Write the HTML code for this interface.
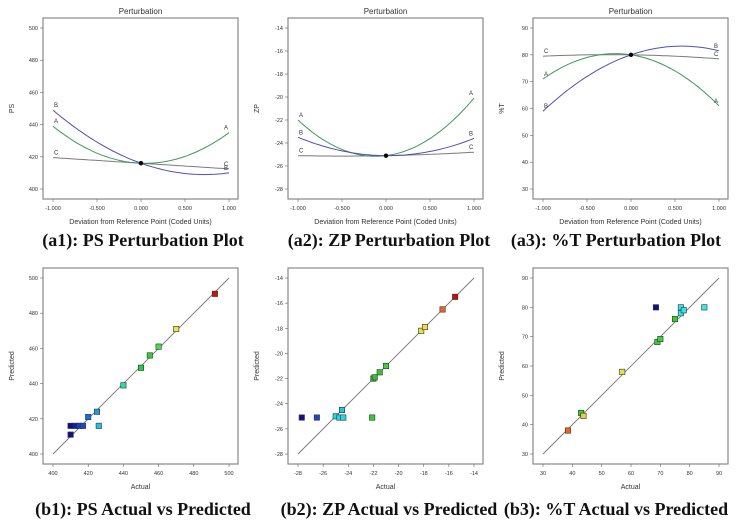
<!DOCTYPE html>
<html><head><meta charset="utf-8"><style>
body{margin:0;background:#fff;width:739px;height:529px;overflow:hidden}
svg{display:block}
.cap{font-family:"Liberation Serif",serif;font-weight:bold;font-size:18px;fill:#111}
.t{font-family:"Liberation Sans",sans-serif;fill:#333}
</style></head><body>
<svg id="s" width="739" height="529"></svg>
<script>
// Perturbation data: values at coded -1, 0, +1
const xTicksPert = [-1, -0.5, 0, 0.5, 1];
const xTickLabelsPert = ["-1.000","-0.500","0.000","0.500","1.000"];
const psA = [439, 416, 435], psB = [449, 416, 410], psC = [419.5, 416, 412.5];
const zpA = [-22, -25.1, -20.1], zpB = [-23.5, -25.1, -23.6], zpC = [-25.1, -25.1, -24.8];
const tA = [71, 80, 61], tB = [59, 80, 81.5], tC = [79.5, 80, 78.5];
const psTicks = [400, 420, 440, 460, 480, 500];
const zpTicks = [-28, -26, -24, -22, -20, -18, -16, -14];
const tTicks = [30, 40, 50, 60, 70, 80, 90];
// Actual vs predicted
const psActual = [410, 410, 413, 415, 417, 420, 425, 426, 440, 450, 455, 460, 470, 492];
const psPred   = [416, 411, 416, 416, 416, 421, 424, 416, 439, 449, 456, 461, 471, 491];
const psColor  = ["#10108a","#10108a","#1020a0","#1840c0","#1848d0","#1070e0","#2098e8","#20c0e8","#20e0a0","#20d040","#30d030","#40e040","#e8e840","#d01010"];
const zpActual = [-27.7, -26.5, -25, -24.7, -24.4, -24.5, -22.1, -22, -21.9, -21.5, -21, -18.2, -17.9, -16.5, -15.5];
const zpPred   = [-25.1, -25.1, -25, -25.1, -25.1, -24.5, -25.1, -22, -21.9, -21.5, -21, -18.2, -17.9, -16.5, -15.5];
const zpColor  = ["#10108a","#1848c0","#20d8e8","#20d8e8","#20d8e8","#20c8e0","#30d030","#30c030","#30c030","#30c830","#40d040","#e8e040","#e8e040","#f06020","#c01010"];
const tActual = [68.5, 77, 77, 78, 85, 75, 69, 70, 57, 43, 43.8, 38.5];
const tPred   = [80, 80, 78, 79, 80, 76, 68.2, 69.2, 58, 44, 43, 38];
const tColor  = ["#10108a","#30e8f0","#30e8f0","#30e8f0","#30e8f0","#30d030","#30d030","#40d040","#e8e040","#30d030","#e8d040","#f06020"];

const NS="http://www.w3.org/2000/svg", S=document.getElementById('s');
function mk(tag,at,txt){const e=document.createElementNS(NS,tag);for(const k in at)e.setAttribute(k,at[k]);if(txt!==undefined)e.textContent=txt;S.appendChild(e);return e;}
function capX(ox){return ox===0?143:(ox===245?389:616);}

function frame(ox,top,xt,xl,yt,title,xTitle,yTitle,cap,capY,key){
  const box={l:ox+43,r:ox+238,t:top,b:top+(top<100?181:196)};
  const dx0=ox+53,dx1=ox+229,dy0=box.b-10,dy1=top+10;
  const X=v=>dx0+(v-xt[0])/(xt[xt.length-1]-xt[0])*(dx1-dx0);
  const Y=v=>dy0-(v-yt[0])/(yt[yt.length-1]-yt[0])*(dy0-dy1);
  let e=mk('rect',{x:box.l,y:box.t,width:box.r-box.l,height:box.b-box.t,fill:'none',stroke:'#888','stroke-width':1.2});
  
  if(title){e=mk('text',{x:(box.l+box.r)/2,y:top-4,'text-anchor':'middle','font-size':8,class:'t'},title);
    }
  yt.forEach(v=>{mk('line',{x1:box.l-3,x2:box.l,y1:Y(v),y2:Y(v),stroke:'#666','stroke-width':0.6});
    e=mk('text',{x:box.l-5,y:Y(v)+2,'text-anchor':'end','font-size':5.5,class:'t'},String(v));
    });
  xt.forEach((v,i)=>{mk('line',{x1:X(v),x2:X(v),y1:box.b,y2:box.b+3,stroke:'#666','stroke-width':0.6});
    e=mk('text',{x:X(v),y:box.b+11,'text-anchor':'middle','font-size':5.5,class:'t'},xl[i]);
    });
  e=mk('text',{x:(box.l+box.r)/2,y:box.b+25,'text-anchor':'middle','font-size':7,class:'t'},xTitle);
  
  const cy=(box.t+box.b)/2;
  e=mk('text',{x:ox+14,y:cy,'text-anchor':'middle','font-size':7,class:'t',transform:`rotate(-90 ${ox+14} ${cy})`},yTitle);
  
  e=mk('text',{x:capX(ox),y:capY,'text-anchor':'middle',class:'cap'},cap);
  
  return {X,Y};
}
function quad(p,x){const a=(p[0]+p[2])/2-p[1],b=(p[2]-p[0])/2;return a*x*x+b*x+p[1];}
function pert(ox,yt,A,B,C,yTitle,cap,key){
  const {X,Y}=frame(ox,18,xTicksPert,xTickLabelsPert,yt,'Perturbation','Deviation from Reference Point (Coded Units)',yTitle,cap,246,key);
  [[C,'#7a7a7a','C'],[A,'#3a9a5a','A'],[B,'#5050b0','B']].forEach(([p,col,n])=>{
    let d='';for(let i=0;i<=50;i++){const x=-1+i/25;d+=(i?'L':'M')+X(x).toFixed(1)+' '+Y(quad(p,x)).toFixed(1);}
    let e=mk('path',{d,fill:'none',stroke:col,'stroke-width':1});
    
    e=mk('text',{x:X(-1)+1,y:Y(p[0])-3,'font-size':6,fill:col,class:'t'},n);
    
    e=mk('text',{x:X(1)-5,y:Y(p[2])-3,'font-size':6,fill:col,class:'t'},n);
    
  });
  let e=mk('circle',{cx:X(0),cy:Y(A[1]),r:2.2,fill:'#000'});
  
}
function avp(ox,t,act,pred,col,cap,key){
  const {X,Y}=frame(ox,268,t,t.map(String),t,'','Actual','Predicted',cap,515,key);
  let e=mk('line',{x1:X(t[0]),y1:Y(t[0]),x2:X(t[t.length-1]),y2:Y(t[t.length-1]),stroke:'#777','stroke-width':0.9});
  
  act.forEach((a,i)=>{e=mk('rect',{x:X(a)-2.7,y:Y(pred[i])-2.7,width:5.4,height:5.4,fill:col[i],stroke:'#333','stroke-width':0.6});
    });
}
pert(0,psTicks,psA,psB,psC,'PS','(a1): PS Perturbation Plot','ps-pert');
pert(245,zpTicks,zpA,zpB,zpC,'ZP','(a2): ZP Perturbation Plot','zp-pert');
pert(490,tTicks,tA,tB,tC,'%T','(a3): %T Perturbation Plot','t-pert');
avp(0,psTicks,psActual,psPred,psColor,'(b1): PS Actual vs Predicted','ps-avp');
avp(245,zpTicks,zpActual,zpPred,zpColor,'(b2): ZP Actual vs Predicted','zp-avp');
avp(490,tTicks,tActual,tPred,tColor,'(b3): %T Actual vs Predicted','t-avp');
</script>
</body></html>
